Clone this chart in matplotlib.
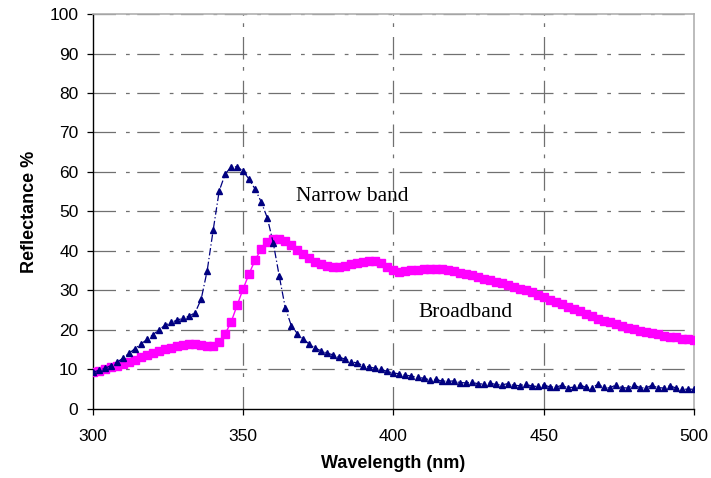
import numpy as np
import matplotlib
matplotlib.use("Agg")
import matplotlib.pyplot as plt

# wavelength grid, 2 nm steps
wavelength = np.arange(300, 501, 2)

narrow_band = [
    9.3, 9.8, 10.3, 11.0, 11.8, 12.9, 14.1, 15.3, 16.5, 17.6,
    18.8, 20.1, 21.2, 21.9, 22.5, 23.0, 23.5, 24.4, 27.8, 35.0,
    45.3, 55.2, 59.5, 61.3, 61.3, 60.2, 58.1, 55.6, 52.4, 48.4,
    42.0, 33.6, 25.6, 21.1, 19.1, 17.7, 16.4, 15.4, 14.7, 14.1,
    13.7, 13.1, 12.6, 12.0, 11.6, 11.0, 10.6, 10.3, 10.0, 9.5,
    9.1, 8.9, 8.6, 8.3, 8.0, 7.8, 7.4, 7.5, 7.1, 7.0,
    7.1, 6.7, 6.6, 6.8, 6.4, 6.3, 6.6, 6.2, 6.1, 6.4,
    6.0, 5.9, 6.3, 5.8, 5.7, 6.1, 5.6, 5.5, 6.0, 5.4,
    5.5, 6.1, 5.5, 5.4, 6.2, 5.5, 5.3, 6.1, 5.4, 5.3,
    6.1, 5.4, 5.3, 6.0, 5.4, 5.3, 5.9, 5.3, 5.0, 5.0,
    5.0,
]

broadband = [
    9.3, 9.7, 10.1, 10.6, 11.0, 11.5, 12.0, 12.5, 13.1, 13.6,
    14.1, 14.6, 15.1, 15.5, 15.9, 16.3, 16.5, 16.5, 16.3, 16.0,
    16.0, 16.9, 19.0, 22.1, 26.3, 30.5, 34.3, 37.8, 40.5, 42.3,
    43.0, 43.1, 42.5, 41.5, 40.3, 39.2, 38.1, 37.3, 36.6, 36.2,
    36.0, 36.0, 36.3, 36.6, 36.9, 37.2, 37.5, 37.5, 36.9, 35.9,
    35.1, 34.8, 34.9, 35.1, 35.3, 35.4, 35.5, 35.5, 35.4, 35.2,
    34.9, 34.5, 34.1, 33.8, 33.4, 33.0, 32.6, 32.2, 31.8, 31.4,
    31.0, 30.5, 30.0, 29.5, 28.9, 28.3, 27.7, 27.1, 26.5, 25.9,
    25.3, 24.7, 24.1, 23.5, 22.9, 22.4, 21.9, 21.4, 21.0, 20.6,
    20.2, 19.8, 19.5, 19.2, 18.9, 18.6, 18.3, 18.1, 17.8, 17.6,
    17.4,
]

x_ticks = [300, 350, 400, 450, 500]
y_ticks = list(range(0, 101, 10))

plt.rcParams['font.family'] = ['Liberation Sans', 'DejaVu Sans']

fig = plt.figure(figsize=(7.11, 4.78), dpi=100)
ax = fig.add_axes([0.1308, 0.1444, 0.976 - 0.1308, 0.9707 - 0.1444])

grid_style = dict(color='#707070', linewidth=0.9, linestyle=(0, (18, 8, 3, 6)))
for y in y_ticks[1:]:
    ax.axhline(y, zorder=1, **grid_style)
for x in x_ticks[1:-1]:
    ax.axvline(x, zorder=1, **grid_style)

ax.plot(wavelength, broadband, color='#FF00FF', linewidth=1.0,
        marker='s', markersize=5.5, zorder=3)
ax.plot(wavelength, narrow_band, color='#000080', linewidth=0.9,
        linestyle=(0, (6, 2, 1, 2)), marker='^', markersize=5, zorder=4)

ax.text(367.7, 53.7, 'Narrow band', family='Liberation Serif', fontsize=15.5,
        va='center', ha='left')
ax.text(408.3, 24.3, 'Broadband', family='Liberation Serif', fontsize=15.5,
        va='center', ha='left')

ax.set_xlim(300, 500)
ax.set_ylim(0, 100)
ax.set_xticks(x_ticks)
ax.set_yticks(y_ticks)
ax.tick_params(axis='both', direction='out', length=4.5, width=0.9,
               labelsize=12.5)
ax.tick_params(axis='x', pad=10)
ax.tick_params(axis='y', pad=6)

for side in ('top', 'right'):
    ax.spines[side].set_color('#b0b0b0')
    ax.spines[side].set_linewidth(1.2)
for side in ('left', 'bottom'):
    ax.spines[side].set_color('black')
    ax.spines[side].set_linewidth(1.0)

ax.set_xlabel('Wavelength (nm)', fontsize=13, fontweight='bold', labelpad=8)
ax.set_ylabel('Reflectance %', fontsize=13, fontweight='bold', labelpad=8)

fig.savefig('out.png', dpi=100)
